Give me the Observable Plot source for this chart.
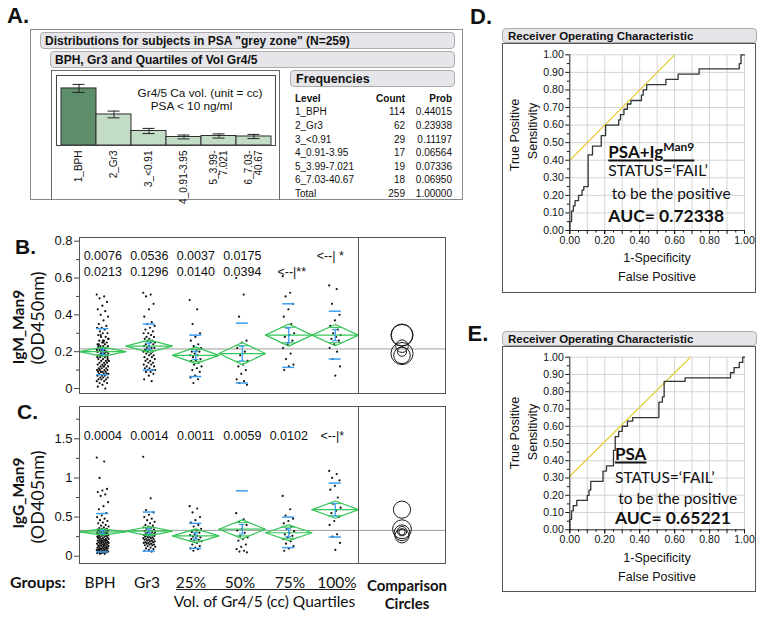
<!DOCTYPE html>
<html><head><meta charset="utf-8">
<script src="https://cdn.jsdelivr.net/npm/d3@7"></script>
<script src="https://cdn.jsdelivr.net/npm/@observablehq/plot@0.6"></script>
<style>
body{margin:0;background:#fff;}
#fig{position:relative;width:764px;height:618px;overflow:hidden;font-family:"Liberation Sans",Arial,sans-serif;color:#111;}
.abs{position:absolute;white-space:nowrap;line-height:1;}
.box{position:absolute;box-sizing:border-box;}
.hdr{position:absolute;box-sizing:border-box;background:#e6e6ea;border:1px solid #adadad;border-radius:4px;font-weight:bold;white-space:nowrap;display:flex;align-items:center;}
svg{position:absolute;}
</style></head><body><div id="fig"></div>
<script>
// ---------------- DATA ----------------
// Panel A
const levelsA = ["1_BPH","2_Gr3","3_<0.91","4_0.91-3.95","5_3.99-7.021","6_7.03-40.67"];
const levelTicksA = ["1_BPH","2_Gr3","3_<0.91","4_0.91-3.95","5_3.99-\n7.021","6_7.03-\n40.67"];
const countsA = [114,62,29,17,19,18];
const probsA = [0.44015,0.23938,0.11197,0.06564,0.07336,0.06950];
const probErrA = [0.031,0.026,0.020,0.015,0.016,0.016];
const totalCountA = 259;
const totalProbA = "1.00000";

// Groups (panels B, C)
const groups = ["BPH","Gr3","25%","50%","75%","100%"];

// Panel B: IgM_Man9 (OD450nm)
const igmBPH = [0.51,0.50,0.49,0.47,0.45,0.43,0.42,0.40,0.39,0.37,0.35,0.34,0.33,0.33,0.32,0.31,0.30,0.30,
  0.29,0.28,0.28,0.27,0.26,0.26,0.25,0.25,0.24,0.24,0.23,0.23,0.23,0.22,0.22,0.22,0.21,0.21,0.21,0.20,0.20,0.20,
  0.20,0.19,0.19,0.19,0.18,0.18,0.18,0.17,0.17,0.17,0.16,0.16,0.16,0.15,0.15,0.15,0.14,0.14,
  0.14,0.13,0.13,0.13,0.12,0.12,0.12,0.11,0.11,0.11,0.10,0.10,0.10,0.10,0.09,0.09,0.09,0.09,0.08,0.08,0.08,0.08,
  0.07,0.07,0.07,0.06,0.06,0.06,0.05,0.05,0.05,0.04,0.04,0.03,0.03,0.02,0.01,0.00,
  0.29,0.27,0.25,0.24,0.22,0.21,0.20,0.19,0.18,0.17,0.26,0.23,0.20,0.19,0.15,0.12,0.10,0.08];
const igmGr3 = [0.52,0.51,0.50,0.46,0.43,0.39,0.36,0.35,0.34,0.33,0.32,0.31,0.30,0.30,0.29,0.28,0.28,0.27,0.27,0.26,
  0.26,0.25,0.25,0.24,0.24,0.23,0.23,0.22,0.22,0.22,0.21,0.21,0.20,0.20,0.20,0.19,0.19,0.18,0.18,0.17,
  0.17,0.16,0.16,0.15,0.15,0.14,0.14,0.13,0.13,0.12,0.12,0.11,0.11,0.10,0.10,0.10,0.09,0.09,0.08,0.07,0.05,0.04];
const igmQ1 = [0.48,0.43,0.35,0.30,0.28,0.26,0.24,0.23,0.22,0.21,0.20,0.20,0.19,0.18,0.18,0.17,0.16,0.15,0.15,0.14,0.13,0.12,0.11,0.10,0.09,0.07,0.06,0.05,0.03];
const igmQ2 = [0.60,0.51,0.39,0.26,0.25,0.22,0.20,0.18,0.15,0.13,0.12,0.10,0.08,0.05,0.04,0.03,0.02];
const igmQ3 = [0.61,0.52,0.50,0.46,0.43,0.39,0.35,0.33,0.30,0.29,0.28,0.26,0.24,0.22,0.19,0.16,0.13,0.12,0.10];
const igmQ4 = [0.56,0.54,0.46,0.40,0.37,0.34,0.32,0.30,0.29,0.28,0.27,0.26,0.24,0.22,0.20,0.16,0.12,0.07];
const igmMeans = [0.20,0.23,0.18,0.19,0.29,0.29];
const igmCI = [0.025,0.034,0.045,0.06,0.06,0.058];
const igmSE = [0.015,0.017,0.022,0.04,0.04,0.03];
const igmSDhi = [0.325,0.35,0.29,0.355,0.46,0.42];
const igmSDlo = [0.075,0.10,0.065,0.03,0.115,0.16];
const igmGrand = 0.215;
const igmP1 = ["0.0076","0.0536","0.0037","0.0175"];
const igmP2 = ["0.0213","0.1296","0.0140","0.0394"];

// Panel C: IgG_Man9 (OD405nm)
const iggBPH = [1.26,1.21,1.00,0.86,0.84,0.82,0.79,0.77,0.69,0.64,0.60,0.55,0.52,0.50,0.48,0.46,0.45,0.43,0.42,0.40,
  0.39,0.38,0.37,0.36,0.35,0.35,0.34,0.34,0.33,0.33,0.32,0.32,0.31,0.31,0.30,0.30,0.30,0.29,0.29,0.28,
  0.28,0.28,0.27,0.27,0.26,0.26,0.26,0.25,0.25,0.24,0.24,0.23,0.23,0.22,0.22,0.22,0.21,0.21,0.20,0.20,
  0.20,0.19,0.19,0.18,0.18,0.18,0.17,0.17,0.16,0.16,0.16,0.15,0.15,0.14,0.14,0.14,0.13,0.13,0.12,0.12,
  0.12,0.11,0.11,0.10,0.10,0.10,0.09,0.09,0.09,0.08,0.08,0.08,0.07,0.07,0.07,0.06,0.06,0.06,0.05,0.05,
  0.05,0.04,0.04,0.03,0.03,0.30,0.27,0.24,0.21,0.19,0.17,0.15,0.13,0.11];
const iggGr3 = [1.27,0.74,0.59,0.56,0.53,0.50,0.48,0.46,0.44,0.42,0.40,0.39,0.38,0.37,0.36,0.35,0.34,0.33,0.32,0.31,
  0.30,0.30,0.29,0.29,0.28,0.28,0.27,0.27,0.26,0.26,0.25,0.25,0.24,0.24,0.23,0.23,0.22,0.22,0.21,0.21,
  0.20,0.20,0.19,0.19,0.18,0.18,0.17,0.17,0.16,0.16,0.15,0.15,0.14,0.14,0.13,0.12,0.11,0.10,0.09,0.08,0.07,0.06];
const iggQ1 = [0.64,0.61,0.56,0.50,0.46,0.43,0.40,0.38,0.35,0.33,0.31,0.30,0.28,0.27,0.26,0.25,0.24,0.23,0.22,0.21,0.20,0.19,0.17,0.15,0.13,0.11,0.10,0.09,0.07];
const iggQ2 = [0.55,0.47,0.44,0.40,0.35,0.33,0.30,0.26,0.24,0.22,0.20,0.15,0.12,0.09,0.07,0.06,0.05];
const iggQ3 = [0.77,0.60,0.52,0.48,0.45,0.42,0.38,0.35,0.32,0.30,0.28,0.26,0.24,0.22,0.19,0.16,0.13,0.10,0.07];
const iggQ4 = [1.09,1.05,1.00,0.97,0.90,0.85,0.75,0.67,0.62,0.58,0.55,0.50,0.45,0.40,0.28,0.25,0.17,0.08];
const iggMeans = [0.31,0.32,0.26,0.345,0.30,0.595];
const iggCI = [0.04,0.06,0.09,0.12,0.10,0.11];
const iggSE = [0.02,0.03,0.04,0.06,0.05,0.08];
const iggSDhi = [0.545,0.565,0.42,0.835,0.50,0.935];
const iggSDlo = [0.055,0.065,0.10,-0.14,0.11,0.245];
const iggGrand = 0.33;
const iggP1 = ["0.0004","0.0014","0.0011","0.0059","0.0102"];

// Panels D, E: ROC curves (corner points, step after)
const rocD_fpr = [0,0,0.01,0.02,0.03,0.05,0.07,0.08,0.105,0.13,0.18,0.205,0.28,0.29,0.31,0.33,0.35,0.41,0.42,0.44,0.55,0.62,0.74,0.97,0.98,1];
const rocD_tpr = [0,0.05,0.11,0.14,0.17,0.20,0.23,0.25,0.43,0.48,0.54,0.60,0.63,0.66,0.69,0.72,0.74,0.77,0.80,0.83,0.86,0.89,0.92,0.95,1.00,1.00];
const tanD_x = [0,0.60], tanD_y = [0.40,1.00];
const rocE_fpr = [0,0,0.01,0.02,0.04,0.10,0.11,0.12,0.19,0.21,0.25,0.26,0.28,0.30,0.33,0.36,0.51,0.53,0.54,0.66,0.92,0.94,0.97,0.99,1];
const rocE_tpr = [0,0.06,0.11,0.14,0.17,0.20,0.23,0.28,0.34,0.37,0.46,0.54,0.57,0.60,0.63,0.65,0.74,0.77,0.86,0.88,0.91,0.94,0.97,1.00,1.00];
const tanE_x = [0,0.69], tanE_y = [0.31,1.00];
const rocTicks = [0,0.1,0.2,0.3,0.4,0.5,0.6,0.7,0.8,0.9,1];
const rocLabelTicks = [0,0.2,0.4,0.6,0.8,1];
const rocMinor = [0.05,0.15,0.25,0.35,0.45,0.55,0.65,0.75,0.85,0.95];

// ---------------- HELPERS ----------------
const fig = document.getElementById("fig");
const ARIAL = '"Liberation Sans", Arial, sans-serif';
const CAL = 'Lato, "Open Sans", sans-serif';
const GREEN = "#37c65a", BLUE = "#3a9df0";

function text(str, x, y, {size=12, weight="normal", family=ARIAL, anchor="middle", rotate=0, html=false, color="#111", lh=1}={}) {
  const d = document.createElement("div");
  d.className = "abs";
  if (html) d.innerHTML = str; else d.textContent = str;
  d.style.left = x + "px"; d.style.top = y + "px";
  d.style.fontSize = size + "px"; d.style.fontWeight = weight; d.style.fontFamily = family; d.style.color = color;
  d.style.lineHeight = String(lh);
  const ax = anchor === "start" ? "0" : anchor === "end" ? "-100%" : "-50%";
  d.style.transform = `translate(${ax},-50%)` + (rotate ? ` rotate(${rotate}deg)` : "");
  fig.appendChild(d);
  return d;
}
function box(x, y, w, h, css) {
  const d = document.createElement("div");
  d.className = "box";
  Object.assign(d.style, {left: x+"px", top: y+"px", width: w+"px", height: h+"px"}, css);
  fig.appendChild(d);
  return d;
}
function hdr(str, x, y, w, h, size, pad=4) {
  const d = document.createElement("div");
  d.className = "hdr";
  d.textContent = str;
  Object.assign(d.style, {left: x+"px", top: y+"px", width: w+"px", height: h+"px", fontSize: size+"px", paddingLeft: pad+"px", fontFamily: ARIAL});
  fig.appendChild(d);
}
function put(svg, x, y) { svg.style.left = x + "px"; svg.style.top = y + "px"; fig.appendChild(svg); }
const jitter = i => (((i * 0.6180339887) % 1) - 0.5) * 0.26;

// ---------------- PANEL A ----------------
text("A.", 7, 16, {size: 22, weight: "bold", anchor: "start"});
box(30, 29, 433, 171, {border: "1px solid #8a8a8a"});
hdr('Distributions for subjects in PSA "grey zone" (N=259)', 40, 32, 415, 17, 12);
hdr("BPH, Gr3 and Quartiles of Vol Gr4/5", 50, 51, 405, 17, 12);
box(51, 70, 229, 130, {border: "1px solid #6a6a6a", borderBottom: "none"});
hdr("Frequencies", 290, 70, 165, 17, 12.5, 5);

const plotA = Plot.plot({
  width: 229, height: 130, marginLeft: 5, marginRight: 5, marginTop: 5, marginBottom: 55,
  x: {domain: levelsA, padding: 0, insetLeft: 4, insetRight: 4},
  y: {domain: [0, 0.54], axis: null},
  color: {type: "identity"},
  style: {fontFamily: ARIAL, background: "transparent", overflow: "visible"},
  marks: [
    Plot.barY(levelsA, {x: d => d, y: (d, i) => probsA[i], fill: (d, i) => i === 0 ? "#5e8f6b" : "#c3dcc6", stroke: "#2e2e2e", strokeWidth: 1}),
    Plot.ruleX(levelsA, {x: d => d, y1: (d, i) => probsA[i] - probErrA[i], y2: (d, i) => probsA[i] + probErrA[i], stroke: "#222"}),
    Plot.tickY(levelsA, {x: d => d, y: (d, i) => probsA[i] + probErrA[i], stroke: "#222", insetLeft: 11.5, insetRight: 11.5}),
    Plot.tickY(levelsA, {x: d => d, y: (d, i) => probsA[i] - probErrA[i], stroke: "#222", insetLeft: 11.5, insetRight: 11.5}),
    Plot.frame({stroke: "#444"}),
    Plot.axisX({tickRotate: -90, tickSize: 0, tickPadding: 5, fontSize: 10, label: null,
      tickFormat: d => levelTicksA[levelsA.indexOf(d)]})
  ]
});
put(plotA, 51, 70);
text("Gr4/5 Ca vol. (unit = cc)", 200, 93.3, {size: 11.8, lh: 0.85});
text("PSA &lt; 10 ng/ml", 191.5, 106, {size: 11.8, html: true, lh: 0.85});

// table
const colLevel = 295, colCount = 405, colProb = 452;
const rowY0 = 98.7, rowStep = 13.6;
text("Level", colLevel, rowY0, {size: 10, weight: "bold", anchor: "start"});
text("Count", colCount, rowY0, {size: 10, weight: "bold", anchor: "end"});
text("Prob", colProb, rowY0, {size: 10, weight: "bold", anchor: "end"});
levelsA.forEach((lv, i) => {
  const y = rowY0 + rowStep * (i + 1);
  text(lv, colLevel, y, {size: 10, anchor: "start"});
  text(String(countsA[i]), colCount, y, {size: 10, anchor: "end"});
  text(probsA[i].toFixed(5), colProb, y, {size: 10, anchor: "end"});
});
{
  const y = rowY0 + rowStep * 7;
  text("Total", colLevel, y, {size: 10, anchor: "start"});
  text(String(totalCountA), colCount, y, {size: 10, anchor: "end"});
  text(totalProbA, colProb, y, {size: 10, anchor: "end"});
}

// ---------------- PANELS B, C ----------------
function groupPanel(cfg) {
  const {vals, means, ci, se, sdHi, sdLo, grand, yDomain, major, minor, fmt, rows, H} = cfg;
  const mt = 5, mb = 5;
  const pxPerUnit = (H - mt - mb) / (yDomain[1] - yDomain[0]);
  const nG = groups.length;
  const bandPx = 46.5, circPx = 87;
  const xMax = nG + circPx / bandPx;
  const circX = nG + circPx / bandPx / 2;
  const idx = d3.range(nG);
  const pts = vals.flatMap((arr, g) => arr.map((v, i) => ({x: g + 0.5 + jitter(i), y: v})));
  const diam = idx.flatMap(g => [[g, 0], [g + 0.5, 1], [g + 1, 0], [g + 0.5, -1], [g, 0]]
    .map(([x, s]) => ({g, x, y: means[g] + s * ci[g]})));
  const w = 0.5 * (1 - Math.SQRT1_2);
  const ov = idx.flatMap(g => [1, -1].map(s => ({y: means[g] + s * ci[g] * Math.SQRT1_2, x1: g + 0.5 - w, x2: g + 0.5 + w})));
  const textMarks = rows.map(r => Plot.text(r.items, {x: "x", text: "t", frameAnchor: "top", dy: r.dy, dx: r.dx || 0, fontSize: 12.5}));
  return Plot.plot({
    width: 410, height: H, marginLeft: 39, marginRight: 5, marginTop: mt, marginBottom: mb,
    x: {domain: [0, xMax], axis: null},
    y: {domain: yDomain, axis: null},
    r: {type: "linear", domain: [0, 1], range: [0, pxPerUnit]},
    style: {fontFamily: ARIAL, background: "transparent", overflow: "visible"},
    marks: [
      Plot.ruleY([grand], {stroke: "#9c9c9c", strokeWidth: 1}),
      Plot.dot(pts, {x: "x", y: "y", r: 1.1, fill: "#111", stroke: "none"}),
      Plot.line(diam, {x: "x", y: "y", z: "g", stroke: GREEN, strokeWidth: 1.2}),
      Plot.ruleY(idx, {y: i => means[i], x1: i => i, x2: i => i + 1, stroke: GREEN, strokeWidth: 1.2}),
      Plot.ruleY(ov, {y: "y", x1: "x1", x2: "x2", stroke: GREEN, strokeWidth: 1}),
      Plot.ruleY(idx, {y: i => sdHi[i], x1: i => i + 0.5 - 0.13, x2: i => i + 0.5 + 0.13, stroke: BLUE, strokeWidth: 1.5, clip: true}),
      Plot.ruleY(idx, {y: i => sdLo[i], x1: i => i + 0.5 - 0.13, x2: i => i + 0.5 + 0.13, stroke: BLUE, strokeWidth: 1.5, clip: true}),
      Plot.ruleX(idx, {x: i => i + 0.5, y1: i => means[i] - se[i], y2: i => means[i] + se[i], stroke: BLUE, strokeWidth: 1.3}),
      Plot.ruleY(idx, {y: i => means[i] + se[i], x1: i => i + 0.44, x2: i => i + 0.56, stroke: BLUE, strokeWidth: 1.2}),
      Plot.ruleY(idx, {y: i => means[i] - se[i], x1: i => i + 0.44, x2: i => i + 0.56, stroke: BLUE, strokeWidth: 1.2}),
      Plot.dot(idx, {x: () => circX, y: i => means[i], r: i => ci[i], stroke: "#1a1a1a", strokeWidth: 1, fill: "none"}),
      Plot.ruleX([nG], {stroke: "#555"}),
      Plot.frame({stroke: "#555"}),
      Plot.axisY({ticks: major, tickFormat: fmt, tickSize: 5, tickPadding: 2, fontSize: 13, label: null, stroke: "#444"}),
      Plot.axisY({ticks: minor, tickFormat: () => "", tickSize: 3, label: null, stroke: "#444"}),
      ...textMarks
    ]
  });
}
const atGroup = (arr, start = 0) => arr.map((t, i) => ({x: start + i + 0.5, t}));

text("B.", 15, 245.5, {size: 21, weight: "bold", anchor: "start"});
const plotB = groupPanel({
  vals: [igmBPH, igmGr3, igmQ1, igmQ2, igmQ3, igmQ4], means: igmMeans, ci: igmCI, se: igmSE,
  sdHi: igmSDhi, sdLo: igmSDlo, grand: igmGrand, yDomain: [-0.027, 0.820], H: 166,
  major: [0, 0.2, 0.4, 0.6, 0.8], minor: [0.1, 0.3, 0.5, 0.7], fmt: d => d === 0 ? "0" : d3.format(".1f")(d),
  rows: [
    {items: atGroup(igmP1), dy: 13.7},
    {items: atGroup(igmP2), dy: 29.7},
    {items: [{x: 5.5, t: "<--| *"}], dy: 13.7, dx: -5},
    {items: [{x: 4.5, t: "<--|**"}], dy: 29.7, dx: 3}
  ]
});
put(plotB, 40, 232);
text("IgM_Man9", 19, 326.5, {size: 15.5, weight: "bold", family: CAL, rotate: -90});
text("(OD450nm)", 36.5, 317.5, {size: 18, family: CAL, rotate: -90});

text("C.", 17, 410.5, {size: 21, weight: "bold", anchor: "start"});
const plotC = groupPanel({
  vals: [iggBPH, iggGr3, iggQ1, iggQ2, iggQ3, iggQ4], means: iggMeans, ci: iggCI, se: iggSE,
  sdHi: iggSDhi, sdLo: iggSDlo, grand: iggGrand, yDomain: [-0.093, 1.913], H: 167,
  major: [0, 0.5, 1, 1.5], minor: [0.25, 0.75, 1.25, 1.75], fmt: d => String(d),
  rows: [
    {items: atGroup(iggP1), dy: 24.7},
    {items: [{x: 5.5, t: "<--|*"}], dy: 24.7, dx: -3}
  ]
});
put(plotC, 40, 401);
text("IgG_Man9", 19, 493, {size: 15.5, weight: "bold", family: CAL, rotate: -90});
text("(OD405nm)", 37, 496.5, {size: 18, family: CAL, rotate: -90});

// bottom labels
const groupLabelX = [100, 147, 191, 240, 290, 337];
text("Groups:", 10, 582, {size: 16, weight: "bold", family: CAL, anchor: "start"});
groups.forEach((g, i) => text(g, groupLabelX[i], 582.5, {size: 15.5, family: CAL}));
box(176, 589, 179, 1, {background: "#222"});
text("Vol. of Gr4/5 (cc) Quartiles", 264.5, 601.5, {size: 15.5, family: CAL});
text("Comparison", 407, 584.5, {size: 15, weight: "bold", family: CAL});
text("Circles", 407, 603, {size: 15, weight: "bold", family: CAL});

// ---------------- PANELS D, E ----------------
function rocPlot(fpr, tpr, tx, ty, H, mt, mb) {
  const pts = fpr.map((x, i) => ({x, y: tpr[i]}));
  const tan = tx.map((x, i) => ({x, y: ty[i]}));
  return Plot.plot({
    width: 255, height: H, marginLeft: 67.3, marginRight: 13, marginTop: mt, marginBottom: mb,
    x: {domain: [0, 1], axis: null}, y: {domain: [0, 1], axis: null},
    style: {fontFamily: ARIAL, background: "transparent", overflow: "visible"},
    marks: [
      Plot.gridX({ticks: rocTicks, stroke: "#d4d4d4", strokeOpacity: 1}),
      Plot.gridY({ticks: rocTicks, stroke: "#d4d4d4", strokeOpacity: 1}),
      Plot.line(tan, {x: "x", y: "y", stroke: "#e3cf3c", strokeWidth: 1.2}),
      Plot.line(pts, {x: "x", y: "y", curve: "step-after", stroke: "#333", strokeWidth: 1.3}),
      Plot.ruleX([0], {stroke: "#333"}),
      Plot.ruleY([0], {stroke: "#333"}),
      Plot.axisY({ticks: rocTicks, tickFormat: ".2f", tickSize: 4, tickPadding: 2, fontSize: 10.5, label: null}),
      Plot.axisY({ticks: rocMinor, tickFormat: () => "", tickSize: 2.5, label: null}),
      Plot.axisX({ticks: rocLabelTicks, tickFormat: ".2f", tickSize: 4, tickPadding: 2, fontSize: 10.5, label: null}),
      Plot.axisX({ticks: rocTicks, tickFormat: () => "", tickSize: 4, label: null}),
      Plot.axisX({ticks: rocMinor, tickFormat: () => "", tickSize: 2.5, label: null})
    ]
  });
}
function rocFrame(top, boxH) {
  hdr("Receiver Operating Characteristic", 502, top, 255, 15, 11.5, 5);
  box(502, top + 15, 254, boxH, {border: "1px solid #555"});
}

text("D.", 470, 17, {size: 22, weight: "bold", anchor: "start"});
rocFrame(28, 250);
put(rocPlot(rocD_fpr, rocD_tpr, tanD_x, tanD_y, 250, 11.3, 63), 502, 43);
text("1-Specificity", 657, 258, {size: 12.5});
text("False Positive", 657, 277, {size: 12.5});
text("True Positive", 515, 135, {size: 12.5, rotate: -90});
text("Sensitivity", 533, 131, {size: 12.5, rotate: -90});
text('<span style="text-decoration:underline;text-decoration-thickness:2px;text-underline-offset:2px">PSA+Ig<span style="font-size:12px;position:relative;top:-7px">Man9</span></span>', 608.3, 150.5, {size: 17, weight: "bold", family: CAL, anchor: "start", html: true});
text("STATUS=\u2018FAIL\u2019", 608.3, 171, {size: 15.5, family: CAL, anchor: "start"});
text("to be the positive", 611.7, 193.5, {size: 15.5, family: CAL, anchor: "start"});
text("AUC= 0.72338", 608.3, 215.5, {size: 17.5, weight: "bold", family: CAL, anchor: "start"});

text("E.", 467.5, 334, {size: 22, weight: "bold", anchor: "start"});
rocFrame(331, 246);
put(rocPlot(rocE_fpr, rocE_tpr, tanE_x, tanE_y, 246, 10.7, 62.7), 502, 346);
text("1-Specificity", 657, 558, {size: 12.5});
text("False Positive", 657, 577, {size: 12.5});
text("True Positive", 515, 433, {size: 12.5, rotate: -90});
text("Sensitivity", 533, 431.7, {size: 12.5, rotate: -90});
text('<span style="text-decoration:underline;text-decoration-thickness:2px;text-underline-offset:2px">PSA</span>', 615, 453.2, {size: 17, weight: "bold", family: CAL, anchor: "start", html: true});
text("STATUS=\u2018FAIL\u2019", 615, 477.5, {size: 15.5, family: CAL, anchor: "start"});
text("to be the positive", 618.3, 499, {size: 15.5, family: CAL, anchor: "start"});
text("AUC= 0.65221", 615, 518.3, {size: 17.5, weight: "bold", family: CAL, anchor: "start"});
</script></body></html>
